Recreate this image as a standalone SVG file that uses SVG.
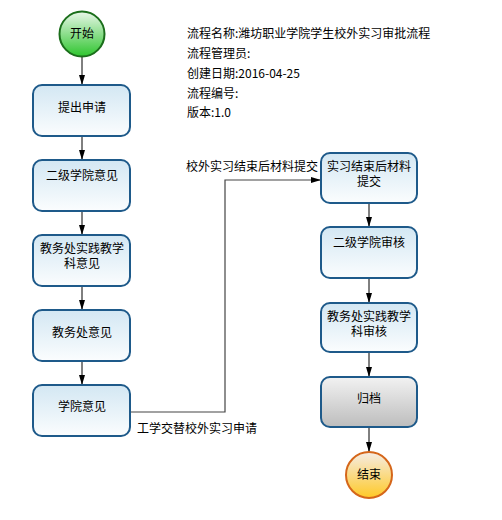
<svg xmlns="http://www.w3.org/2000/svg" width="502" height="520" viewBox="0 0 502 520">
<defs>
<linearGradient id="gBlue" x1="0" y1="0" x2="0" y2="1"><stop offset="0" stop-color="#d3e7f3"/><stop offset="1" stop-color="#fbfdfe"/></linearGradient>
<linearGradient id="gGray" x1="0" y1="0" x2="0" y2="1"><stop offset="0" stop-color="#f2f2f2"/><stop offset="1" stop-color="#bdbdbd"/></linearGradient>
<linearGradient id="gGreen" x1="0" y1="0" x2="0" y2="1"><stop offset="0" stop-color="#eaf7ea"/><stop offset="1" stop-color="#2ec52e"/></linearGradient>
<linearGradient id="gOrange" x1="0" y1="0" x2="0" y2="1"><stop offset="0" stop-color="#f5ece6"/><stop offset="1" stop-color="#ffc926"/></linearGradient>
<marker id="arr" viewBox="0 0 10 10" refX="10" refY="5" markerWidth="10" markerHeight="10" markerUnits="userSpaceOnUse" orient="auto"><path d="M0,2 L10,5 L0,8 z" fill="#000"/></marker>
</defs>
<style>
text{font-family:"Noto Sans CJK SC","Liberation Sans",sans-serif;font-size:12px;fill:#000}
.c{text-anchor:middle}
.box{fill:url(#gBlue);stroke:#1e5a8a;stroke-width:2}
.gray{fill:url(#gGray);stroke:#1e5a8a;stroke-width:2}
.ln{fill:none;stroke:#000;stroke-width:1;marker-end:url(#arr)}
.ln2{fill:none;stroke:#444;stroke-width:1.2;marker-end:url(#arr)}
</style>
<g id="header">
<text x="187" y="38">流程名称:潍坊职业学院学生校外实习审批流程</text>
<text x="187" y="58">流程管理员:</text>
<text x="187" y="78">创建日期:2016-04-25</text>
<text x="187" y="98">流程编号:</text>
<text x="187" y="117">版本:1.0</text>
</g>
<g id="connectors">
<line class="ln" x1="82" y1="57" x2="82" y2="85"/>
<line class="ln" x1="82" y1="136" x2="82" y2="160"/>
<line class="ln" x1="82" y1="211" x2="82" y2="235"/>
<line class="ln" x1="82" y1="286" x2="82" y2="310"/>
<line class="ln" x1="82" y1="361" x2="82" y2="385"/>
<polyline class="ln2" points="130,412 225,412 225,180 321,180"/>
<line class="ln" x1="369" y1="203" x2="369" y2="227"/>
<line class="ln" x1="369" y1="278" x2="369" y2="303"/>
<line class="ln" x1="369" y1="352" x2="369" y2="377"/>
<line class="ln" x1="369" y1="427" x2="369" y2="452"/>
<text x="137" y="433">工学交替校外实习申请</text>
<text x="186" y="171">校外实习结束后材料提交</text>
</g>
<g id="start"><circle cx="82" cy="34" r="22.5" fill="url(#gGreen)" stroke="#1b6e1b" stroke-width="2"/><text class="c" x="82" y="38">开始</text></g>
<g id="n1"><rect class="box" x="33" y="85" width="97" height="51" rx="9"/><text class="c" x="82" y="112">提出申请</text></g>
<g id="n2"><rect class="box" x="33" y="160" width="97" height="51" rx="9"/><text class="c" x="82" y="180">二级学院意见</text></g>
<g id="n3"><rect class="box" x="33" y="235" width="97" height="51" rx="9"/><text class="c" x="82" y="253">教务处实践教学<tspan x="82" dy="15">科意见</tspan></text></g>
<g id="n4"><rect class="box" x="33" y="310" width="97" height="51" rx="9"/><text class="c" x="82" y="337">教务处意见</text></g>
<g id="n5"><rect class="box" x="33" y="385" width="97" height="51" rx="9"/><text class="c" x="82" y="411">学院意见</text></g>
<g id="r1"><rect class="box" x="321" y="153" width="96" height="50" rx="9"/><text class="c" x="369" y="171">实习结束后材料<tspan x="369" dy="15">提交</tspan></text></g>
<g id="r2"><rect class="box" x="321" y="227" width="96" height="51" rx="9"/><text class="c" x="369" y="247">二级学院审核</text></g>
<g id="r3"><rect class="box" x="321" y="303" width="96" height="49" rx="9"/><text class="c" x="369" y="321">教务处实践教学<tspan x="369" dy="15">科审核</tspan></text></g>
<g id="r4"><rect class="gray" x="321" y="377" width="96" height="50" rx="9"/><text class="c" x="369" y="403">归档</text></g>
<g id="end"><circle cx="369" cy="475" r="23" fill="url(#gOrange)" stroke="#d5661a" stroke-width="2"/><text class="c" x="369" y="479">结束</text></g>
</svg>
